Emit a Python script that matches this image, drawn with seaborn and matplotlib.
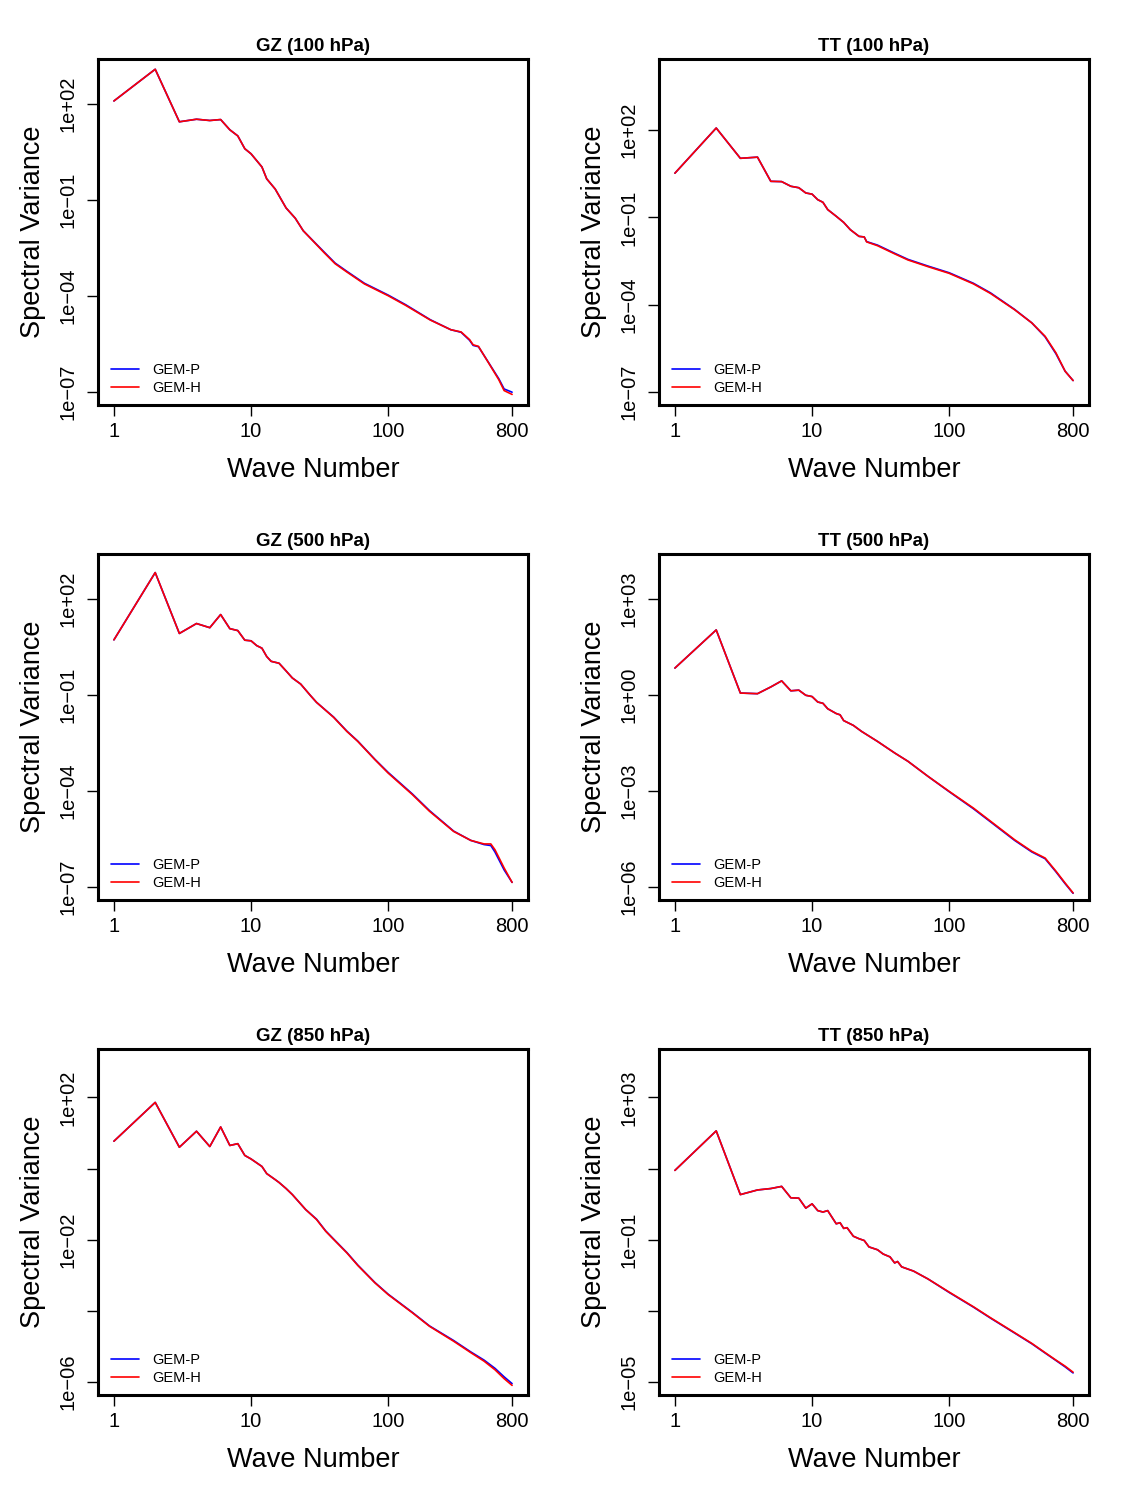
import numpy as np
import pandas as pd
import matplotlib
matplotlib.use("Agg")
import matplotlib.pyplot as plt
import seaborn as sns

# ---------------- data (log10 of spectral variance) ----------------
models = ["GEM-P", "GEM-H"]
colors = ["#0000FF", "#FF0000"]

gz100_k = [1, 2, 3, 4, 5, 6, 7, 8, 9, 10, 12, 13, 15, 18, 21, 24, 34, 41, 50, 67,
           100, 134, 203, 286, 340, 392, 416, 455, 540, 640, 700, 800]
gz100_h = [2.09, 3.08, 1.44, 1.52, 1.48, 1.51, 1.19, 1.00, 0.60, 0.44, 0.03, -0.34, -0.66,
           -1.25, -1.57, -1.96, -2.64, -2.99, -3.25, -3.62, -3.99, -4.29, -4.75, -5.05,
           -5.12, -5.36, -5.52, -5.57, -6.09, -6.61, -6.95, -7.07]
gz100_p = [2.09, 3.08, 1.44, 1.52, 1.48, 1.51, 1.19, 1.00, 0.60, 0.44, 0.03, -0.34, -0.66,
           -1.25, -1.57, -1.96, -2.62, -2.97, -3.23, -3.60, -3.97, -4.27, -4.74, -5.05,
           -5.13, -5.38, -5.54, -5.58, -6.08, -6.58, -6.90, -7.00]

tt100_k = [1, 2, 3, 4, 5, 6, 7, 8, 9, 10, 11, 12, 13, 15, 17, 19, 22, 24, 25, 30, 40,
           50, 70, 100, 150, 200, 300, 400, 500, 600, 700, 800]
tt100_h = [0.52, 2.07, 1.03, 1.07, 0.24, 0.23, 0.07, 0.02, -0.16, -0.20, -0.39, -0.48,
           -0.73, -0.96, -1.17, -1.42, -1.65, -1.67, -1.84, -1.97, -2.25, -2.46, -2.69,
           -2.92, -3.28, -3.61, -4.17, -4.62, -5.08, -5.65, -6.28, -6.60]
tt100_p = [0.52, 2.07, 1.03, 1.07, 0.24, 0.23, 0.07, 0.02, -0.16, -0.20, -0.39, -0.48,
           -0.73, -0.96, -1.17, -1.42, -1.65, -1.67, -1.83, -1.95, -2.23, -2.44, -2.67,
           -2.90, -3.26, -3.59, -4.16, -4.62, -5.10, -5.68, -6.28, -6.60]

gz500_k = [1, 2, 3, 4, 5, 6, 7, 8, 9, 10, 11, 12, 13, 14, 16, 18, 20, 23, 27, 30, 40,
           50, 60, 80, 100, 150, 200, 300, 400, 500, 560, 600, 700, 800]
gz500_h = [0.72, 2.82, 0.92, 1.23, 1.10, 1.51, 1.07, 1.01, 0.71, 0.69, 0.54, 0.46, 0.20,
           0.05, -0.01, -0.25, -0.47, -0.66, -1.01, -1.23, -1.70, -2.14, -2.45, -3.02,
           -3.44, -4.11, -4.63, -5.26, -5.54, -5.65, -5.65, -5.83, -6.40, -6.85]
gz500_p = [0.72, 2.82, 0.92, 1.23, 1.10, 1.51, 1.07, 1.01, 0.71, 0.69, 0.54, 0.46, 0.20,
           0.05, -0.01, -0.25, -0.47, -0.66, -1.01, -1.23, -1.69, -2.13, -2.44, -3.01,
           -3.42, -4.09, -4.61, -5.25, -5.54, -5.67, -5.70, -5.90, -6.46, -6.85]

tt500_k = [1, 2, 3, 4, 5, 6, 7, 8, 9, 10, 11, 12, 13, 15, 16, 17, 20, 23, 30, 40, 50,
           70, 100, 150, 200, 300, 400, 500, 600, 700, 800]
tt500_h = [0.84, 2.03, 0.06, 0.04, 0.25, 0.44, 0.13, 0.15, -0.01, -0.05, -0.22, -0.26,
           -0.43, -0.58, -0.62, -0.80, -0.95, -1.14, -1.45, -1.81, -2.07, -2.54, -3.01,
           -3.53, -3.94, -4.52, -4.88, -5.09, -5.50, -5.87, -6.18]
tt500_p = [0.84, 2.03, 0.06, 0.04, 0.25, 0.44, 0.13, 0.15, -0.01, -0.05, -0.22, -0.26,
           -0.43, -0.58, -0.62, -0.80, -0.95, -1.14, -1.45, -1.81, -2.07, -2.54, -3.02,
           -3.55, -3.96, -4.54, -4.90, -5.11, -5.52, -5.89, -6.19]

gz850_k = [1, 2, 3, 4, 5, 6, 7, 8, 9, 10, 12, 13, 15, 16, 18, 20, 25, 30, 35, 40, 50,
           60, 80, 100, 150, 200, 300, 400, 500, 600, 700, 800]
gz850_h = [0.77, 1.86, 0.60, 1.05, 0.62, 1.17, 0.65, 0.70, 0.37, 0.27, 0.06, -0.14,
           -0.31, -0.39, -0.56, -0.73, -1.15, -1.43, -1.76, -1.99, -2.37, -2.72, -3.21,
           -3.54, -4.05, -4.43, -4.85, -5.17, -5.41, -5.65, -5.90, -6.09]
gz850_p = [0.77, 1.86, 0.60, 1.05, 0.62, 1.17, 0.65, 0.70, 0.37, 0.27, 0.06, -0.14,
           -0.31, -0.39, -0.56, -0.73, -1.15, -1.42, -1.75, -1.98, -2.36, -2.71, -3.20,
           -3.53, -4.04, -4.42, -4.83, -5.15, -5.38, -5.61, -5.85, -6.04]

tt850_k = [1, 2, 3, 4, 5, 6, 7, 8, 9, 10, 11, 12, 13, 15, 16, 17, 18, 20, 22, 24, 26,
           30, 33, 37, 40, 42, 45, 55, 70, 100, 150, 200, 300, 400, 500, 600, 700, 800]
tt850_h = [0.95, 2.06, 0.27, 0.40, 0.44, 0.50, 0.18, 0.17, -0.11, 0.01, -0.18, -0.22,
           -0.18, -0.55, -0.52, -0.68, -0.66, -0.90, -0.97, -1.02, -1.20, -1.28, -1.40,
           -1.48, -1.65, -1.61, -1.76, -1.88, -2.10, -2.47, -2.88, -3.19, -3.61, -3.91,
           -4.17, -4.38, -4.55, -4.72]
tt850_p = [0.95, 2.06, 0.27, 0.40, 0.44, 0.50, 0.18, 0.17, -0.11, 0.01, -0.18, -0.22,
           -0.18, -0.55, -0.52, -0.68, -0.66, -0.90, -0.97, -1.02, -1.20, -1.28, -1.40,
           -1.48, -1.65, -1.61, -1.76, -1.88, -2.10, -2.48, -2.89, -3.20, -3.62, -3.92,
           -4.18, -4.39, -4.57, -4.74]

titles = ["GZ (100 hPa)", "TT (100 hPa)", "GZ (500 hPa)", "TT (500 hPa)",
          "GZ (850 hPa)", "TT (850 hPa)"]
panel_k = [gz100_k, tt100_k, gz500_k, tt500_k, gz850_k, tt850_k]
panel_p = [gz100_p, tt100_p, gz500_p, tt500_p, gz850_p, tt850_p]
panel_h = [gz100_h, tt100_h, gz500_h, tt500_h, gz850_h, tt850_h]
# y-range in decades (log10 lower, upper) and tick step in decades
panel_ylim = [(-7, 3), (-7, 4), (-7, 3), (-6, 4), (-6, 3), (-5, 4)]
panel_ystep = [3, 3, 3, 3, 2, 2]
panel_ylabel_every = [1, 1, 1, 1, 2, 2]
xticks = [1, 10, 100, 800]

# ---------------- styling ----------------
sns.set_style("white")
plt.rcParams["font.family"] = ["Liberation Sans", "DejaVu Sans"]
plt.rcParams["axes.unicode_minus"] = True
for key in ["text.color", "axes.labelcolor", "xtick.color", "ytick.color",
            "axes.edgecolor"]:
    plt.rcParams[key] = "black"

W, H = 1122, 1485
fig = plt.figure(figsize=(W / 100, H / 100), dpi=100)

col_left = [98, 659]
row_top = [59, 554, 1049]
box_w, box_h = 430, 346


def fmt_exp(e):
    return "1e%s%02d" % ("+" if e >= 0 else "\u2212", abs(e))


for i in range(6):
    r, c = divmod(i, 2)
    l = col_left[c] / W
    b = 1 - (row_top[r] + box_h) / H
    ax = fig.add_axes([l, b, box_w / W, box_h / H])

    rows = []
    for m, vals in zip(models, [panel_p[i], panel_h[i]]):
        for k, v in zip(panel_k[i], vals):
            rows.append({"k": k, "v": 10.0 ** v, "model": m})
    df = pd.DataFrame(rows)
    sns.lineplot(data=df, x="k", y="v", hue="model", hue_order=models,
                 palette=colors, estimator=None, sort=True, linewidth=1.2, ax=ax)
    ax.set_xscale("log")
    ax.set_yscale("log")

    lx0, lx1 = 0.0, np.log10(max(panel_k[i]))
    padx = 0.04 * (lx1 - lx0)
    ax.set_xlim(10 ** (lx0 - padx), 10 ** (lx1 + padx))
    ly0, ly1 = panel_ylim[i]
    pady = 0.04 * (ly1 - ly0)
    ax.set_ylim(10 ** (ly0 - pady), 10 ** (ly1 + pady))

    ax.set_xticks(xticks)
    ax.set_xticklabels([str(x) for x in xticks])
    ax.xaxis.set_minor_locator(matplotlib.ticker.NullLocator())
    exps = [e for e in range(ly0, ly1 + 1) if (e - ly0) % panel_ystep[i] == 0]
    ax.set_yticks([10.0 ** e for e in exps])
    ylabs = [fmt_exp(e) if j % panel_ylabel_every[i] == 0 else ""
             for j, e in enumerate(exps)]
    ax.set_yticklabels(ylabs)
    ax.yaxis.set_minor_locator(matplotlib.ticker.NullLocator())

    ax.tick_params(axis="both", which="major", direction="out", length=8, width=1.0,
                   labelsize=14.5, colors="black", bottom=True, left=True)
    ax.tick_params(axis="x", pad=4)
    ax.tick_params(axis="y", pad=7, labelrotation=90)
    for lab in ax.get_yticklabels():
        lab.set_va("center")

    for sp in ax.spines.values():
        sp.set_visible(True)
        sp.set_color("black")
        sp.set_linewidth(2.2)

    ax.set_title(titles[i], fontsize=13.5, fontweight="bold", pad=6, color="black")
    ax.set_xlabel("Wave Number", fontsize=19.5, labelpad=12, color="black")
    ax.set_ylabel("Spectral Variance", fontsize=19.5, labelpad=9, color="black")

    handles, labels = ax.get_legend_handles_labels()
    leg = ax.legend(handles, labels, loc="lower left", bbox_to_anchor=(0.03, 0.03),
                    frameon=False, fontsize=10.5, handlelength=1.95, handletextpad=0.9,
                    labelspacing=0.25, borderaxespad=0, borderpad=0)
    for t in leg.get_texts():
        t.set_color("black")

fig.savefig("out.png", dpi=100, facecolor="white")
